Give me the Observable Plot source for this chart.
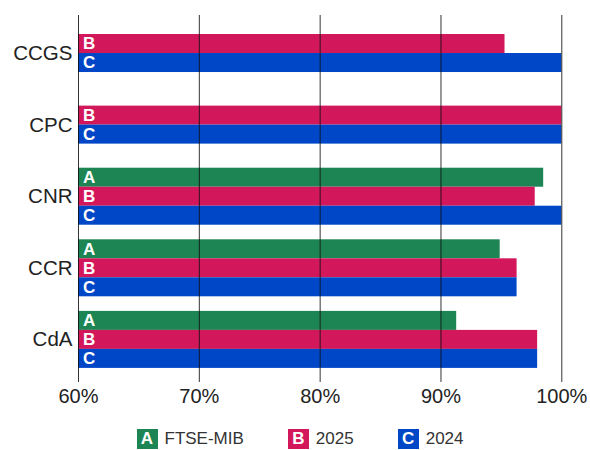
<!DOCTYPE html>
<html>
<head>
<meta charset="utf-8">
<script src="https://cdn.jsdelivr.net/npm/d3@7"></script>
<script src="https://cdn.jsdelivr.net/npm/@observablehq/plot@0.6"></script>
<style>
  body { margin: 0; background: #fff; font-family: "Liberation Sans", Arial, sans-serif; }
  #chart { width: 590px; }
  .legend { display: flex; justify-content: center; align-items: center; gap: 44px; margin-top: 9px; padding-left: 10px; height: 20px; }
  .legend .item { display: flex; align-items: center; gap: 7px; font-size: 17px; color: #333; }
  .legend .sw { width: 21px; height: 20px; color: #fff; font-weight: bold; font-size: 17px; display: flex; align-items: center; justify-content: center; }
</style>
</head>
<body>
<div id="chart"></div>
<script>
const companies = ["CCGS", "CPC", "CNR", "CCR", "CdA"];
const ftseMib = [null, null, 98.5, 94.9, 91.3];
const v2025 = [95.3, 100, 97.8, 96.3, 98.0];
const v2024 = [100, 100, 100, 96.3, 98.0];
const seriesNames = ["FTSE-MIB", "2025", "2024"];
const seriesLetters = ["A", "B", "C"];
const seriesColors = ["#1d8553", "#d3175b", "#0047c7"];
const xTicks = [60, 70, 80, 90, 100];

const barUnit = 0.2654; // bar thickness in group-step units
const seriesValues = [ftseMib, v2025, v2024];
const rows = [];
companies.forEach((c, i) => {
  const present = seriesValues.map((arr, s) => ({s, v: arr[i]})).filter(d => d.v != null);
  const n = present.length;
  present.forEach((d, j) => {
    const pos = i + (j - (n - 1) / 2) * barUnit;
    rows.push({company: c, letter: seriesLetters[d.s], color: seriesColors[d.s], value: d.v,
      y1: pos - barUnit / 2, y2: pos + barUnit / 2, pos});
  });
});

const chart = Plot.plot({
  width: 590,
  height: 420,
  marginLeft: 78,
  marginRight: 28.7,
  marginTop: 15,
  marginBottom: 38,
  style: {fontFamily: "'Liberation Sans', Arial, sans-serif", color: "#222", background: "#fff"},
  x: {domain: [60, 100]},
  y: {domain: [-0.531, 4.595], reverse: true},
  marks: [
    Plot.rectX(rows, {x1: 60, x2: "value", y1: "y1", y2: "y2", fill: d => d.color, inset: 0}),
    Plot.text(rows, {x: 60, y: "pos", text: "letter", dx: 4.5, textAnchor: "start", fill: "#fff", fontWeight: "bold", fontSize: 17}),
    Plot.ruleX(xTicks, {stroke: "#111", strokeOpacity: 0.85, strokeWidth: 1}),
    Plot.axisX({ticks: xTicks, tickFormat: d => d + "%", tickSize: 0, tickPadding: 6, fontSize: 20, label: null}),
    Plot.axisY({ticks: [0, 1, 2, 3, 4], tickFormat: i => companies[i], tickSize: 0, tickPadding: 6, fontSize: 20.5, label: null})
  ]
});
document.getElementById("chart").appendChild(chart);

const legend = document.createElement("div");
legend.className = "legend";
seriesNames.forEach((name, s) => {
  const item = document.createElement("div");
  item.className = "item";
  const sw = document.createElement("div");
  sw.className = "sw";
  sw.style.background = seriesColors[s];
  sw.textContent = seriesLetters[s];
  const t = document.createElement("span");
  t.textContent = name;
  item.appendChild(sw);
  item.appendChild(t);
  legend.appendChild(item);
});
document.getElementById("chart").appendChild(legend);
</script>
</body>
</html>
